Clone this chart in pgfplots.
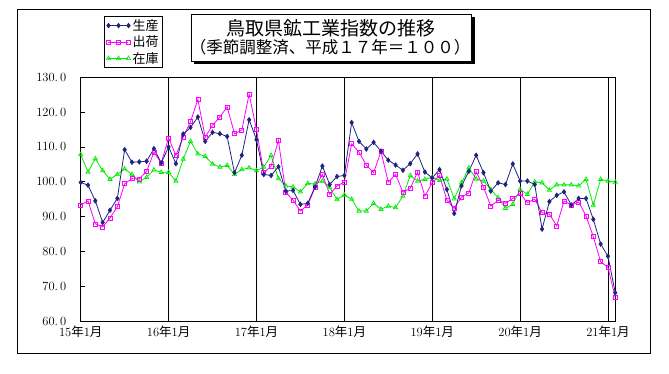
\documentclass[border=0pt]{standalone}
\usepackage{pgfplots}
\pgfplotsset{compat=1.18}
\usepackage{pgfplotstable}
\usepackage{fontspec}
\newfontfamily\cjk{Noto Sans CJK JP}
\definecolor{prodc}{RGB}{32,36,128}
\definecolor{shipc}{RGB}{255,0,255}
\definecolor{invc}{RGB}{0,235,0}
\pgfplotstableread{
i prod ship inv
0 99.8 93.3 107.8
1 99.0 94.5 102.8
2 94.5 87.9 106.6
3 88.3 87.0 103.2
4 91.8 89.6 100.7
5 95.2 92.8 102.1
6 109.2 99.4 103.7
7 105.6 100.9 102.1
8 105.7 100.8 100.0
9 105.9 103.0 101.3
10 109.5 108.5 103.4
11 105.4 105.4 102.7
12 110.0 112.6 102.7
13 105.2 107.6 100.2
14 113.7 112.8 106.5
15 115.6 117.3 111.6
16 118.6 123.6 108.0
17 111.6 112.8 107.3
18 114.2 116.2 105.1
19 113.8 118.6 104.2
20 113.0 121.5 104.7
21 102.6 113.8 102.1
22 107.6 114.8 103.5
23 117.8 125.2 104.0
24 112.1 115.0 103.2
25 102.1 102.6 104.2
26 101.8 104.5 107.6
27 104.3 111.9 100.9
28 97.3 97.0 98.8
29 97.5 94.7 98.5
30 93.5 91.6 97.1
31 93.8 93.3 99.5
32 98.5 98.3 99.4
33 104.5 102.1 100.2
34 99.2 96.4 98.3
35 101.5 98.8 94.9
36 101.8 99.9 96.2
37 117.0 110.9 95.0
38 111.6 108.5 91.6
39 109.4 104.8 91.6
40 111.3 102.6 93.8
41 108.8 108.7 92.1
42 106.2 99.9 93.0
43 104.8 102.1 92.6
44 103.3 97.0 95.9
45 105.2 98.1 101.8
46 108.0 102.8 100.2
47 102.8 95.9 100.7
48 101.1 99.7 101.3
49 103.5 101.8 100.4
50 97.8 94.7 100.8
51 90.9 92.4 95.1
52 98.8 95.6 99.7
53 103.0 96.8 104.0
54 107.6 102.9 100.8
55 102.6 98.5 100.2
56 97.3 93.0 97.8
57 99.7 94.7 95.4
58 99.2 93.8 92.4
59 105.1 95.2 93.5
60 100.2 96.6 97.8
61 100.2 94.0 96.4
62 99.2 95.0 100.0
63 86.4 91.1 99.7
64 94.3 90.7 97.6
65 96.1 87.3 99.1
66 97.1 94.5 99.1
67 93.3 93.3 99.1
68 95.2 94.2 98.8
69 95.2 90.2 100.7
70 89.2 84.2 93.3
71 82.1 77.0 100.7
72 78.6 75.4 100.2
73 68.1 66.7 99.9
}\datatable
\begin{document}
\begin{tikzpicture}
\path (0pt,0pt) rectangle (669pt,374pt);
\draw[line width=0.8pt] (17pt,365pt) rectangle (650pt,21pt);
% title box with shadow
\fill[black] (194pt,357pt) rectangle (474.5pt,309.5pt);
\draw[fill=white, line width=0.8pt] (191pt,360pt) rectangle (471pt,313pt);
\node[font=\cjk\fontsize{19}{22}\selectfont, inner sep=0pt] at (331pt,346pt) {鳥取県鉱工業指数の推移};
\node[font=\cjk\fontsize{16.5}{19}\selectfont, inner sep=0pt] at (330pt,326.5pt) {（季節調整済、平成１７年＝１００）};
\begin{axis}[
  at={(80.7pt,53pt)}, anchor=south west,
  scale only axis, width=534.6pt, height=243.7pt,
  xmin=0, xmax=73, ymin=60, ymax=130,
  clip=false,
  axis line style={line width=0.8pt},
  xtick={0,12,24,36,48,60,72},
  xticklabels={15{\cjk 年}1{\cjk 月},16{\cjk 年}1{\cjk 月},17{\cjk 年}1{\cjk 月},18{\cjk 年}1{\cjk 月},19{\cjk 年}1{\cjk 月},20{\cjk 年}1{\cjk 月},21{\cjk 年}1{\cjk 月}},
  xtick style={draw=none},
  xmajorgrids,
  major grid style={black, line width=0.8pt},
  ytick={60,70,...,130},
  yticklabels={60.\kern2pt0,70.\kern2pt0,80.\kern2pt0,90.\kern2pt0,100.\kern2pt0,110.\kern2pt0,120.\kern2pt0,130.\kern2pt0},
  ytick pos=left, tick align=inside, major tick length=4pt,
  ytick style={black, line width=0.8pt},
  ticklabel style={font=\fontsize{12.5}{14}\selectfont},
  yticklabel style={xshift=-11pt},
  xticklabel style={yshift=-1pt},
  legend cell align=left,
  reverse legend,
  legend style={at={(0.0436,1.2516)}, anchor=north west, draw=black, line width=0.8pt,
    font=\cjk\fontsize{13}{15}\selectfont, inner xsep=2pt, inner ysep=1pt, row sep=0pt,
    /tikz/every even column/.append style={column sep=0pt}},
  legend image code/.code={\draw[#1, line width=0.8pt] plot coordinates {(0pt,0pt) (10pt,0pt) (20pt,0pt)};},
]
\addplot[invc, line width=0.8pt, mark=triangle, mark size=2.4pt, mark options={fill=white, line width=0.7pt}] table[x=i,y=inv] {\datatable};
\addplot[shipc, line width=0.8pt, mark=square, mark size=2pt, mark options={fill=white, line width=0.7pt}] table[x=i,y=ship] {\datatable};
\addplot[prodc, line width=0.8pt, mark=diamond*, mark size=2.2pt, mark options={fill=prodc}] table[x=i,y=prod] {\datatable};
\legend{在庫,出荷,生産}
\end{axis}
\end{tikzpicture}
\end{document}
